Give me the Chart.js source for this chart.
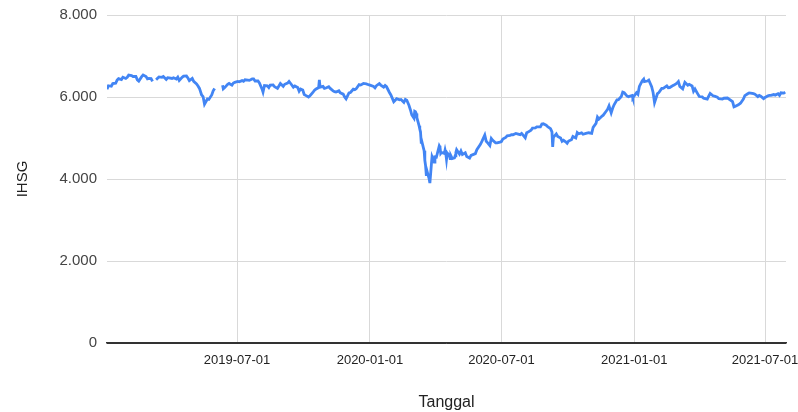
<!DOCTYPE html>
<html>
<head>
<meta charset="utf-8">
<script src="https://cdn.jsdelivr.net/npm/chart.js@4/dist/chart.umd.min.js"></script>
<style>
  html, body { margin: 0; padding: 0; background: #ffffff; }
  canvas { display: block; }
</style>
</head>
<body>
<canvas id="ihsg" width="798" height="412"></canvas>
<script>
// IHSG closing values by trading date (null marks a break in the record)
const dates2019 = [
  '2019-01-02','2019-01-04','2019-01-08','2019-01-10','2019-01-14','2019-01-16','2019-01-18','2019-01-22','2019-01-24','2019-01-28',
  '2019-01-30','2019-02-01','2019-02-05','2019-02-07','2019-02-11','2019-02-13','2019-02-15','2019-02-19','2019-02-21','2019-02-25',
  '2019-02-27','2019-03-01','2019-03-04','2019-03-06','2019-03-07','2019-03-11','2019-03-13','2019-03-15','2019-03-19','2019-03-21',
  '2019-03-25','2019-03-27','2019-03-29','2019-04-02','2019-04-04','2019-04-08','2019-04-10','2019-04-12','2019-04-16','2019-04-18',
  '2019-04-22','2019-04-24','2019-04-26','2019-04-30','2019-05-02','2019-05-06','2019-05-08','2019-05-10','2019-05-13','2019-05-15',
  '2019-05-17','2019-05-21','2019-05-23','2019-05-27','2019-05-29','2019-05-31','2019-06-05','2019-06-11','2019-06-12','2019-06-14',
  '2019-06-18','2019-06-20','2019-06-24','2019-06-26','2019-06-28','2019-07-02','2019-07-04','2019-07-08','2019-07-10','2019-07-12',
  '2019-07-16','2019-07-18','2019-07-22','2019-07-24','2019-07-26','2019-07-30','2019-08-01','2019-08-05','2019-08-06','2019-08-08',
  '2019-08-12','2019-08-14','2019-08-16','2019-08-20','2019-08-22','2019-08-26','2019-08-28','2019-08-30','2019-09-03','2019-09-05',
  '2019-09-09','2019-09-11','2019-09-13','2019-09-17','2019-09-19','2019-09-23','2019-09-25','2019-09-27','2019-09-30','2019-10-02',
  '2019-10-04','2019-10-08','2019-10-10','2019-10-14','2019-10-16','2019-10-18','2019-10-22','2019-10-23','2019-10-24','2019-10-28',
  '2019-10-30','2019-11-01','2019-11-05','2019-11-07','2019-11-11','2019-11-13','2019-11-15','2019-11-19','2019-11-21','2019-11-25',
  '2019-11-27','2019-11-29','2019-12-03','2019-12-05','2019-12-09','2019-12-11','2019-12-13','2019-12-17','2019-12-19','2019-12-23',
  '2019-12-27','2019-12-30'
];
const values2019 = [
  6190,6275,6262,6328,6336,6413,6448,6425,6480,6451,
  6480,6533,6521,6500,6500,6420,6389,6497,6537,6501,
  6443,6455,6450,6380,null,6420,6455,6490,6480,6500,
  6430,6470,6468,6452,6470,6440,6485,6405,6480,6507,
  6515,6462,6401,6455,6380,6320,6270,6209,6050,6010,
  5826,5951,5940,6050,6150,6209,null,6289,6200,6230,
  6310,6330,6290,6340,6358,6380,6370,6400,6382,6420,
  6410,6405,6440,6440,6390,6390,6340,6175,6120,6280,
  6270,6230,6290,6295,6250,6210,6270,6330,6260,6310,
  6340,6381,6335,6240,6270,6230,6140,6195,6170,6060,
  6040,5999,6030,6110,6160,6190,6230,6420,6240,6260,
  6210,6220,6250,6210,6150,6130,6120,6150,6100,6070,
  6000,5953,6100,6110,6190,6180,6200,6300,6290,6330,
  6320,6300
];

const dates2020 = [
  '2020-01-02','2020-01-06','2020-01-08','2020-01-10','2020-01-14','2020-01-16','2020-01-20','2020-01-22','2020-01-24','2020-01-28',
  '2020-01-30','2020-02-03','2020-02-05','2020-02-07','2020-02-11','2020-02-13','2020-02-17','2020-02-19','2020-02-21','2020-02-24',
  '2020-02-26','2020-02-28','2020-03-02','2020-03-03','2020-03-04','2020-03-05','2020-03-06','2020-03-09','2020-03-10','2020-03-11',
  '2020-03-12','2020-03-13','2020-03-16','2020-03-17','2020-03-18','2020-03-19','2020-03-20','2020-03-23','2020-03-24','2020-03-26',
  '2020-03-27','2020-03-30','2020-03-31','2020-04-02','2020-04-06','2020-04-07','2020-04-08','2020-04-09','2020-04-13','2020-04-14',
  '2020-04-15','2020-04-16','2020-04-17','2020-04-20','2020-04-21','2020-04-22','2020-04-24','2020-04-27','2020-04-28','2020-04-29',
  '2020-04-30','2020-05-04','2020-05-06','2020-05-08','2020-05-12','2020-05-14','2020-05-18','2020-05-20','2020-05-26','2020-05-28',
  '2020-06-02','2020-06-04','2020-06-08','2020-06-10','2020-06-12','2020-06-15','2020-06-17','2020-06-19','2020-06-23','2020-06-25',
  '2020-06-29','2020-07-01','2020-07-03','2020-07-07','2020-07-09','2020-07-13','2020-07-15','2020-07-17','2020-07-21','2020-07-23',
  '2020-07-27','2020-07-29','2020-08-03','2020-08-05','2020-08-07','2020-08-11','2020-08-13','2020-08-17','2020-08-19','2020-08-24',
  '2020-08-26','2020-08-28','2020-09-01','2020-09-03','2020-09-07','2020-09-09','2020-09-10','2020-09-11','2020-09-15','2020-09-17',
  '2020-09-21','2020-09-23','2020-09-25','2020-09-28','2020-09-30','2020-10-02','2020-10-06','2020-10-08','2020-10-12','2020-10-14',
  '2020-10-16','2020-10-20','2020-10-22','2020-10-26','2020-10-30','2020-11-03','2020-11-05','2020-11-09','2020-11-11','2020-11-13',
  '2020-11-17','2020-11-19','2020-11-23','2020-11-25','2020-11-27','2020-11-30','2020-12-02','2020-12-04','2020-12-08','2020-12-10',
  '2020-12-14','2020-12-16','2020-12-18','2020-12-22','2020-12-24','2020-12-29','2020-12-30'
];
const values2020 = [
  6283,6258,6225,6275,6325,6290,6240,6280,6250,6110,
  6050,5885,5920,5960,5930,5940,5870,5940,5920,5800,
  5690,5560,5480,5650,5640,5600,5498,5300,5220,5154,
  4895,4907,4690,4456,4330,4105,4194,4000,3900,4340,
  4545,4414,4538,4531,4810,4778,4626,4649,4623,4706,
  4625,4480,4635,4575,4500,4570,4496,4513,4567,4650,
  4716,4606,4683,4597,4640,4550,4511,4575,4620,4716,
  4847,4916,5070,4920,4880,4816,4987,4942,4880,4880,
  4900,4914,4973,5014,5052,5064,5080,5079,5110,5101,
  5082,5111,5006,5128,5143,5190,5240,5247,5272,5272,
  5340,5346,5310,5280,5230,5149,4780,5016,5100,5038,
  4999,4918,4945,4906,4870,4926,4958,5039,5000,5132,
  5103,5126,5091,5112,5128,5115,5260,5356,5510,5461,
  5529,5557,5652,5701,5783,5612,5724,5810,5930,5935,
  6012,6118,6104,6023,6008,6036,5979
];

const dates2021 = [
  '2021-01-04','2021-01-06','2021-01-08','2021-01-12','2021-01-14','2021-01-15','2021-01-19','2021-01-21','2021-01-25','2021-01-27',
  '2021-01-29','2021-02-02','2021-02-04','2021-02-08','2021-02-10','2021-02-15','2021-02-17','2021-02-19','2021-02-23','2021-02-25',
  '2021-03-01','2021-03-03','2021-03-05','2021-03-09','2021-03-12','2021-03-16','2021-03-18','2021-03-22','2021-03-24','2021-03-26',
  '2021-03-30','2021-04-01','2021-04-05','2021-04-07','2021-04-12','2021-04-14','2021-04-16','2021-04-20','2021-04-22','2021-04-26',
  '2021-04-28','2021-05-03','2021-05-05','2021-05-10','2021-05-17','2021-05-19','2021-05-21','2021-05-25','2021-05-28','2021-06-01',
  '2021-06-03','2021-06-07','2021-06-09','2021-06-11','2021-06-15','2021-06-17','2021-06-21','2021-06-23','2021-06-25','2021-06-29',
  '2021-07-01','2021-07-05','2021-07-07','2021-07-09','2021-07-13','2021-07-15','2021-07-19','2021-07-21','2021-07-23','2021-07-27',
  '2021-07-29'
];
const values2021 = [
  6104,6066,6258,6395,6435,6373,6389,6413,6250,6109,
  5862,6080,6107,6208,6210,6271,6227,6231,6272,6290,
  6338,6376,6258,6200,6359,6286,6310,6270,6140,6196,
  6071,6011,6002,5970,5948,6020,6086,6030,6020,5995,
  5960,5950,5970,5975,5890,5760,5773,5810,5848,5947,
  6032,6080,6100,6095,6080,6068,6010,6040,6022,5960,
  5990,6030,6038,6040,6060,6046,6080,6040,6102,6096,
  6120
];

// Axis setup
const dateRange = ['2019-01-02', '2021-07-30'];
const dateTicks = ['2019-07-01', '2020-01-01', '2020-07-01', '2021-01-01', '2021-07-01'];
const valueTicks = [0, 2000, 4000, 6000, 8000];

const allDates = dates2019.concat(dates2020, dates2021);
const allValues = values2019.concat(values2020, values2021);
const points = allDates.map((d, i) => ({ x: Date.parse(d), y: allValues[i] }));

const toIsoDay = ms => new Date(ms).toISOString().slice(0, 10);
const withDots = v => String(v).replace(/\B(?=(\d{3})+(?!\d))/g, '.');

new Chart(document.getElementById('ihsg'), {
  type: 'line',
  data: {
    datasets: [{
      label: 'IHSG',
      data: points,
      borderColor: '#4285f4',
      borderWidth: 2.8,
      pointRadius: 0,
      tension: 0,
      spanGaps: false
    }]
  },
  options: {
    responsive: false,
    animation: false,
    devicePixelRatio: 1,
    layout: { padding: { left: 0, right: 12, top: 15, bottom: 0 } },
    plugins: {
      legend: { display: false },
      tooltip: { enabled: false }
    },
    scales: {
      x: {
        type: 'linear',
        min: Date.parse(dateRange[0]),
        max: Date.parse(dateRange[1]),
        afterBuildTicks: axis => { axis.ticks = dateTicks.map(d => ({ value: Date.parse(d) })); },
        afterFit: axis => { axis.height = 69; axis.paddingLeft = 0; axis.paddingRight = 0; },
        ticks: {
          autoSkip: false,
          maxRotation: 0,
          padding: 10,
          color: '#222222',
          font: { family: 'Liberation Sans, Arial, sans-serif', size: 13 },
          callback: v => toIsoDay(v)
        },
        grid: { color: '#d9d9d9', lineWidth: 1, drawTicks: false },
        border: { display: true, color: '#333333', width: 1.5 },
        title: {
          display: true,
          text: 'Tanggal',
          color: '#222222',
          font: { family: 'Liberation Sans, Arial, sans-serif', size: 16 },
          padding: { top: 0, bottom: 0 }
        }
      },
      y: {
        min: 0,
        max: 8000,
        afterBuildTicks: axis => { axis.ticks = valueTicks.map(v => ({ value: v })); },
        afterFit: axis => { axis.width = 107; axis.paddingTop = 0; axis.paddingBottom = 0; },
        ticks: {
          padding: 10,
          color: '#444444',
          font: { family: 'Liberation Sans, Arial, sans-serif', size: 15 },
          callback: v => withDots(v)
        },
        grid: {
          color: ctx => (ctx.tick && ctx.tick.value === 0) ? '#333333' : '#d9d9d9',
          lineWidth: 1,
          drawTicks: false
        },
        border: { display: false },
        title: {
          display: true,
          text: 'IHSG',
          color: '#222222',
          font: { family: 'Liberation Sans, Arial, sans-serif', size: 15 },
          padding: { top: 14, bottom: 0 }
        }
      }
    }
  }
});
</script>
</body>
</html>
